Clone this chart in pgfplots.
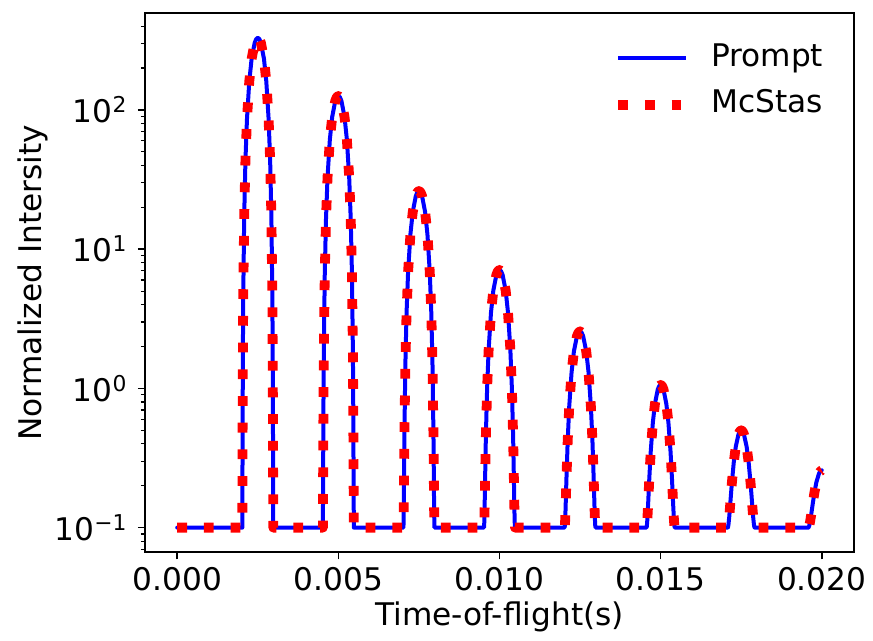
\documentclass[border=0pt]{standalone}
\usepackage{pgfplots}
\pgfplotsset{compat=1.18}
\usepackage{pgfplotstable}
\usepackage{fontspec}
\setmainfont{DejaVu Sans}

% time of flight (s) and normalized intensity
\pgfplotstableread{
t I
0 0.1
0.00202 0.1
0.0020296 0.6174
0.0020392 2.129
0.0020488 4.572
0.0020776 16.90
0.002116 42.87
0.002164 85.93
0.002236 160.6
0.002308 232.9
0.002404 304.2
0.002452 323.5
0.0025 330.1
0.002548 323.5
0.002596 304.2
0.002692 232.9
0.002764 160.6
0.002836 85.93
0.002884 42.87
0.0029224 16.90
0.0029512 4.572
0.0029608 2.129
0.0029704 0.6174
0.00298 0.1
0.00452 0.1
0.0045296 0.2976
0.0045392 0.8745
0.0045488 1.807
0.0045776 6.513
0.004616 16.43
0.004664 32.87
0.004736 61.40
0.004808 89.01
0.004904 116.2
0.004952 123.6
0.005 126.1
0.005048 123.6
0.005096 116.2
0.005192 89.01
0.005264 61.40
0.005336 32.87
0.005384 16.43
0.0054224 6.513
0.0054512 1.807
0.0054608 0.8745
0.0054704 0.2976
0.00548 0.1
0.00702 0.1
0.0070296 0.1409
0.0070392 0.2604
0.0070488 0.4537
0.0070776 1.428
0.007116 3.483
0.007164 6.889
0.007236 12.80
0.007308 18.52
0.007404 24.15
0.007452 25.68
0.0075 26.2
0.007548 25.68
0.007596 24.15
0.007692 18.52
0.007764 12.80
0.007836 6.889
0.007884 3.483
0.0079224 1.428
0.0079512 0.4537
0.0079608 0.2604
0.0079704 0.1409
0.00798 0.1
0.00952 0.1
0.0095296 0.1110
0.0095392 0.1430
0.0095488 0.1949
0.0095776 0.4563
0.009616 1.007
0.009664 1.921
0.009736 3.506
0.009808 5.039
0.009904 6.551
0.009952 6.961
0.01 7.1
0.010048 6.961
0.010096 6.551
0.010192 5.039
0.010264 3.506
0.010336 1.921
0.010384 1.007
0.0104224 0.4563
0.0104512 0.1949
0.0104608 0.1430
0.0104704 0.1110
0.01048 0.1
0.01202 0.1
0.0120296 0.1039
0.0120392 0.1152
0.0120488 0.1335
0.0120776 0.2257
0.012116 0.4201
0.012164 0.7424
0.012236 1.302
0.012308 1.843
0.012404 2.376
0.012452 2.521
0.0125 2.57
0.012548 2.521
0.012596 2.376
0.012692 1.843
0.012764 1.302
0.012836 0.7424
0.012884 0.4201
0.0129224 0.2257
0.0129512 0.1335
0.0129608 0.1152
0.0129704 0.1039
0.01298 0.1
0.01456 0.1
0.0145688 0.1015
0.0145776 0.1059
0.0145864 0.1130
0.0146128 0.1489
0.014648 0.2244
0.014692 0.3497
0.014758 0.5670
0.014824 0.7774
0.014912 0.9847
0.014956 1.041
0.015 1.06
0.015044 1.041
0.015088 0.9847
0.015176 0.7774
0.015242 0.5670
0.015308 0.3497
0.015352 0.2244
0.0153872 0.1489
0.0154136 0.1130
0.0154224 0.1059
0.0154312 0.1015
0.01544 0.1
0.01708 0.1
0.0170884 0.1006
0.0170968 0.1025
0.0171052 0.1054
0.0171304 0.1204
0.017164 0.1518
0.017206 0.2040
0.017269 0.2946
0.017332 0.3822
0.017416 0.4686
0.017458 0.492
0.0175 0.5
0.017542 0.492
0.017584 0.4686
0.017668 0.3822
0.017731 0.2946
0.017794 0.2040
0.017836 0.1518
0.0178696 0.1204
0.0178948 0.1054
0.0179032 0.1025
0.0179116 0.1006
0.01792 0.1
0.01958 0.1
0.0195884 0.1002
0.0195968 0.1010
0.0196052 0.1021
0.0196304 0.1080
0.019664 0.1205
0.019706 0.1411
0.019769 0.1769
0.019832 0.2115
0.019916 0.2456
0.019958 0.2549
0.02 0.258
}\tofdata

\newcommand{\tenpow}[1]{10\raisebox{0.32em}{\fontsize{10.9pt}{12pt}\selectfont #1}}

\begin{document}
\begin{tikzpicture}[font=\fontsize{15.6pt}{18pt}\selectfont]
  \begin{axis}[
    at={(0,0)}, anchor=south west,
    scale only axis,
    width=354.5pt, height=269.5pt,
    ymode=log,
    xmin=-0.001, xmax=0.021,
    ymin=0.0665, ymax=495,
    xtick={0,0.005,0.01,0.015,0.02},
    xticklabels={0.000,0.005,0.010,0.015,0.020},
    scaled x ticks=false,
    ytick={0.1,1,10,100},
    yticklabels={\tenpow{−1},\tenpow{0},\tenpow{1},\tenpow{2}},
    minor ytick={0.07,0.08,0.09,0.2,0.3,0.4,0.5,0.6,0.7,0.8,0.9,2,3,4,5,6,7,8,9,20,30,40,50,60,70,80,90,200,300,400},
    tick align=outside,
    xtick pos=bottom, ytick pos=left,
    major tick length=3.5pt, minor tick length=2pt,
    tick style={black, line width=0.8pt},
    minor tick style={line width=0.6pt},
    axis line style={line width=0.8pt},
    xticklabel style={inner sep=3.7pt},
    yticklabel style={inner sep=5.6pt},
    xlabel={Time-of-flight(s)},
    ylabel={Normalized Intersity},
    xlabel style={at={(axis description cs:0.5,-0.1367)}, anchor=base},
    ylabel style={at={(axis description cs:-0.1457,0.5)}, anchor=base},
    legend style={at={(axis description cs:0.660,0.947)}, anchor=north west,
      draw=none, fill=none, inner sep=0pt, column sep=10pt, row sep=7.3pt,
      nodes={inner sep=0pt, text height=12pt, text depth=4pt},
      cells={anchor=west}},
    legend image code/.code={\draw[#1, line cap=butt] (0pt,0pt) -- (34pt,0pt);},
  ]
    \addplot[blue, line width=2pt, line cap=round, line join=round] table[x=t, y=I] {\tofdata};
    \addplot[red, line width=4.9pt, line join=round, dash pattern=on 4.9pt off 8.45pt] table[x=t, y=I] {\tofdata};
    \legend{Prompt, McStas}
  \end{axis}
  \pgfresetboundingbox
  \path (-72.5pt,-44.35pt) rectangle (364pt,276.15pt);
\end{tikzpicture}
\end{document}
